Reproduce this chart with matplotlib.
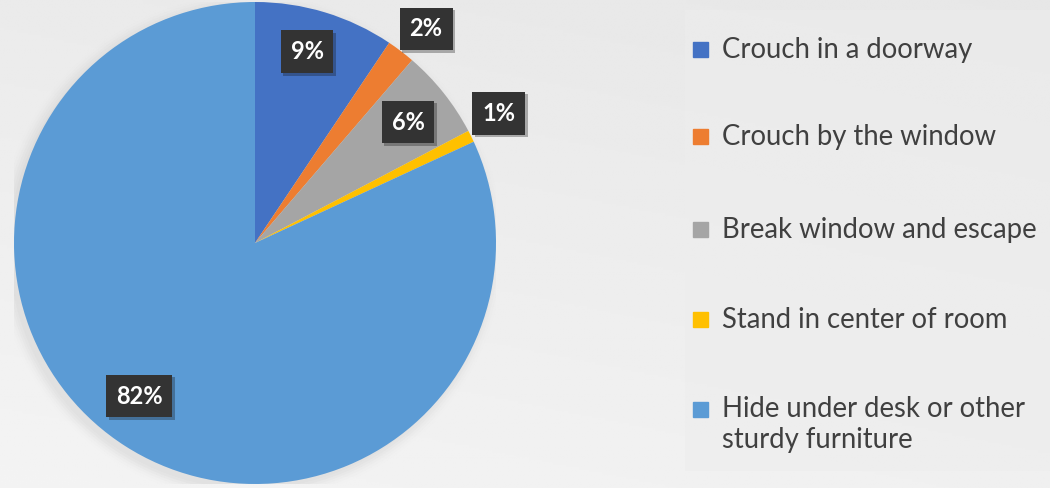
import numpy as np
import matplotlib.pyplot as plt
import matplotlib.patheffects as pe

plt.rcParams["font.family"] = ["Lato", "DejaVu Sans"]

labels = ["Crouch in a doorway", "Crouch by the window", "Break window and escape",
          "Stand in center of room", "Hide under desk or other\nsturdy furniture"]
values = [9.4, 1.9, 6.0, 0.8, 81.9]
colors = ["#4472c4", "#ed7d31", "#a5a5a5", "#ffc000", "#5b9bd5"]

# label box centres in data units (pie radius = 1)
label_pos = [(0.216, 0.793), (0.71, 0.888), (0.635, 0.502), (1.012, 0.539), (-0.481, -0.635)]

fig = plt.figure(figsize=(10.5, 4.88), dpi=100)

# soft grey background
bg = fig.add_axes([0, 0, 1, 1])
yy, xx = np.mgrid[0:1:200j, 0:1:400j]
shade = 0.955 - 0.035 * (1 - yy) - 0.015 * xx
bg.imshow(shade, cmap="gray", vmin=0, vmax=1, aspect="auto", extent=[0, 1, 0, 1])
bg.add_patch(plt.Rectangle((685 / 1050, 17 / 488), 365 / 1050, 461 / 488,
                           color="#ededed", alpha=0.6, lw=0, zorder=2))
bg.set_xlim(0, 1)
bg.set_ylim(0, 1)
bg.axis("off")

ax = fig.add_axes([14 / 1050, 4 / 488, 482 / 1050, 482 / 488])
# faint drop shadow
for i, a in enumerate(np.linspace(0.04, 0.008, 6)):
    ax.add_patch(plt.Circle((-0.02, -0.02), 1.0 + 0.01 * i, color="#808080",
                            alpha=a, lw=0, zorder=0))
wedges, _ = ax.pie(values, colors=colors, startangle=90, counterclock=False,
                   radius=1.0, wedgeprops=dict(lw=0))
for w in wedges:
    w.set_zorder(1)
for v, (x, y) in zip(values, label_pos):
    ax.text(x, y, f"{round(v)}%", ha="center", va="center", color="white",
            fontsize=17, fontweight="bold", zorder=5,
            bbox=dict(boxstyle="square,pad=0.42", fc="#333333", ec="none",
                      path_effects=[pe.SimplePatchShadow(offset=(2, -2), alpha=0.3),
                                    pe.Normal()]))
ax.set_xlim(-1.0, 1.0)
ax.set_ylim(-1.0, 1.0)
ax.set_aspect("equal")
ax.axis("off")

# legend
leg_y = [50, 137, 230, 320, 410]
for lab, c, y in zip(labels, colors, leg_y):
    fy = 1 - y / 488
    bg.add_patch(plt.Rectangle((693 / 1050, fy - 7 / 488), 15 / 1050, 15 / 488,
                               color=c, zorder=3))
    if "\n" in lab:
        bg.text(722 / 1050, fy + 14 / 488, lab, ha="left", va="top",
                fontsize=19.8, color="#404040", zorder=3, linespacing=1.25)
    else:
        bg.text(722 / 1050, fy, lab, ha="left", va="center",
                fontsize=19.8, color="#404040", zorder=3)

fig.savefig("out.png", dpi=100)
